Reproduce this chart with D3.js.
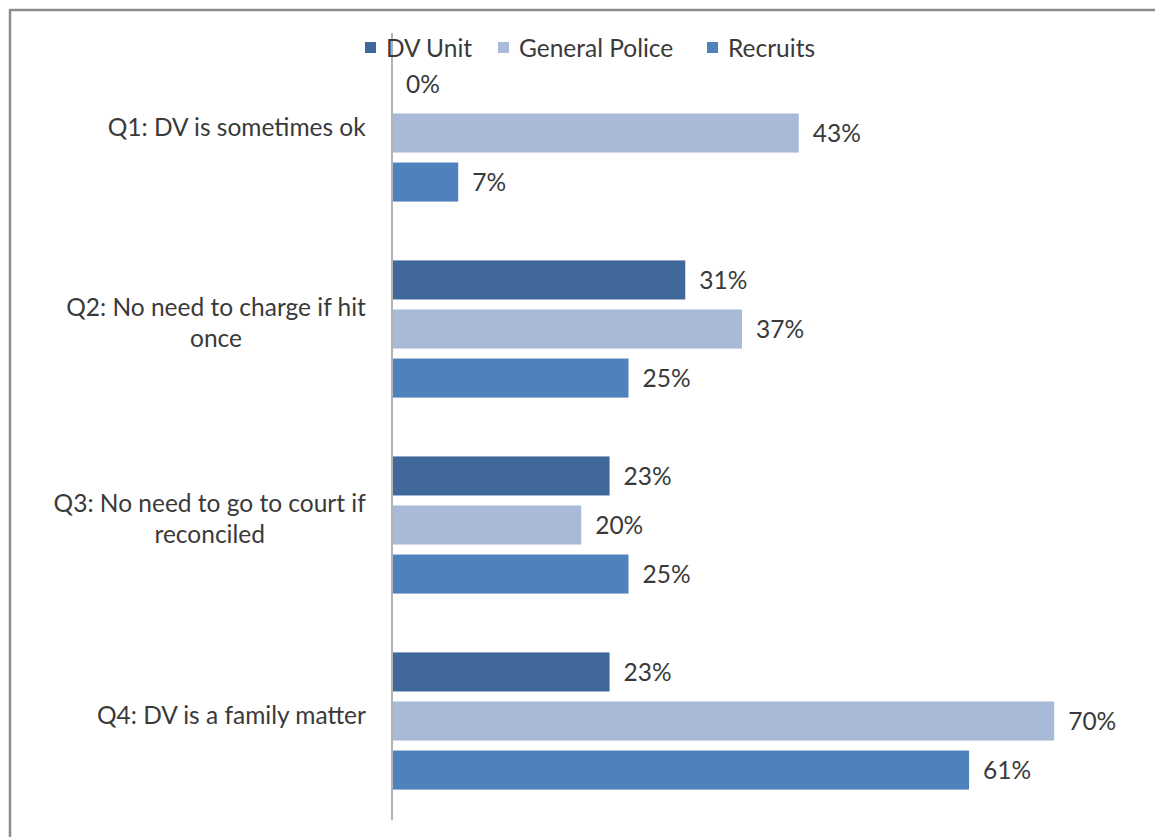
<!DOCTYPE html>
<html>
<head>
<meta charset="utf-8">
<script src="https://cdn.jsdelivr.net/npm/d3@7"></script>
<style>
  body { margin: 0; background: #fff; }
  text { font-family: Lato, "Open Sans", sans-serif; fill: #3a3a3a; }
</style>
</head>
<body>
<script>
var categories = ["Q1: DV is sometimes ok",
                  "Q2: No need to charge if hit once",
                  "Q3: No need to go to court if reconciled",
                  "Q4: DV is a family matter"];
var labelLines = [["Q1: DV is sometimes ok"],
                  ["Q2: No need to charge if hit", "once"],
                  ["Q3: No need to go to court if", "reconciled"],
                  ["Q4: DV is a family matter"]];
var series = ["DV Unit", "General Police", "Recruits"];
var dvUnit = [0, 31, 23, 23];
var generalPolice = [43, 37, 20, 70];
var recruits = [7, 25, 25, 61];
var colors = ["#41689b", "#a9b9d8", "#4f81bd"];

var values = [dvUnit, generalPolice, recruits];
var data = categories.map(function(c, i){
    return { cat: c, vals: series.map(function(s, j){ return { s: s, v: values[j][i] }; }) };
});

var width = 1155, height = 837;
var fontSize = "24.5px";

var svg = d3.select("body")
            .append("svg")
            .attr('width', width)
            .attr('height', height);

// chart border (runs off the right and bottom of the picture)
svg.append("rect")
   .attr('x', 10).attr('y', 10)
   .attr('width', 1300).attr('height', 1000)
   .attr('fill', "#fff")
   .attr('stroke', "#8c8c8c")
   .attr('stroke-width', 2.5);

var x0 = 392;
var xScale = d3.scaleLinear()
               .domain([0, 70])
               .range([x0, x0 + 70 * 9.46]);

var yScale = d3.scaleBand()
               .domain(categories)
               .range([35, 819]);

var ySub = d3.scaleBand()
             .domain(series)
             .range([0, yScale.bandwidth()])
             .paddingInner(0.204)
             .paddingOuter(0.6);

var groups = svg.selectAll("g.group")
   .data(data)
   .enter()
   .append("g")
   .attr('class', "group")
   .attr('transform', function(d){ return "translate(0," + yScale(d.cat) + ")"; });

groups.selectAll("rect")
   .data(function(d){ return d.vals; })
   .enter()
   .append("rect")
   .attr('x', xScale(0))
   .attr('y', function(d){ return ySub(d.s); })
   .attr('width', function(d){ return xScale(d.v) - xScale(0); })
   .attr('height', ySub.bandwidth())
   .attr('fill', function(d, i){ return colors[i]; });

groups.selectAll("text.value")
   .data(function(d){ return d.vals; })
   .enter()
   .append("text")
   .attr('class', "value")
   .attr('x', function(d){ return xScale(d.v) + 14; })
   .attr('y', function(d){ return ySub(d.s) + ySub.bandwidth() / 2; })
   .attr('dy', "0.35em")
   .style('font-size', fontSize)
   .text(function(d){ return d.v + "%"; });

// category axis line
svg.append("line")
   .attr('x1', x0).attr('x2', x0)
   .attr('y1', 33).attr('y2', 820)
   .attr('stroke', "#b3b3b3")
   .attr('stroke-width', 2);

// category labels: right edge fixed, lines centred on the widest line
var labelRight = 366;
labelLines.forEach(function(lines, i){
    var t = svg.append("text").style('font-size', fontSize).attr('text-anchor', "middle");
    var n = lines.length;
    var cy = yScale(categories[i]) + yScale.bandwidth() / 2 - 6;
    lines.forEach(function(l, k){
        t.append("tspan")
         .attr('x', 0)
         .attr('y', cy + (k - (n - 1) / 2) * 31)
         .attr('dy', "0.35em")
         .text(l);
    });
    var w = t.node().getBBox().width;
    t.selectAll("tspan").attr('x', labelRight - w / 2);
});

// legend
var legendX = [365, 498, 707];
var legend = svg.selectAll("g.legend")
   .data(series)
   .enter()
   .append("g")
   .attr('class', "legend")
   .attr('transform', function(d, i){ return "translate(" + legendX[i] + ",42)"; });

legend.append("rect")
   .attr('width', 11).attr('height', 11)
   .attr('fill', function(d, i){ return colors[i]; });

legend.append("text")
   .attr('x', 21)
   .attr('y', 6)
   .attr('dy', "0.35em")
   .style('font-size', fontSize)
   .text(function(d){ return d; });
</script>
</body>
</html>
